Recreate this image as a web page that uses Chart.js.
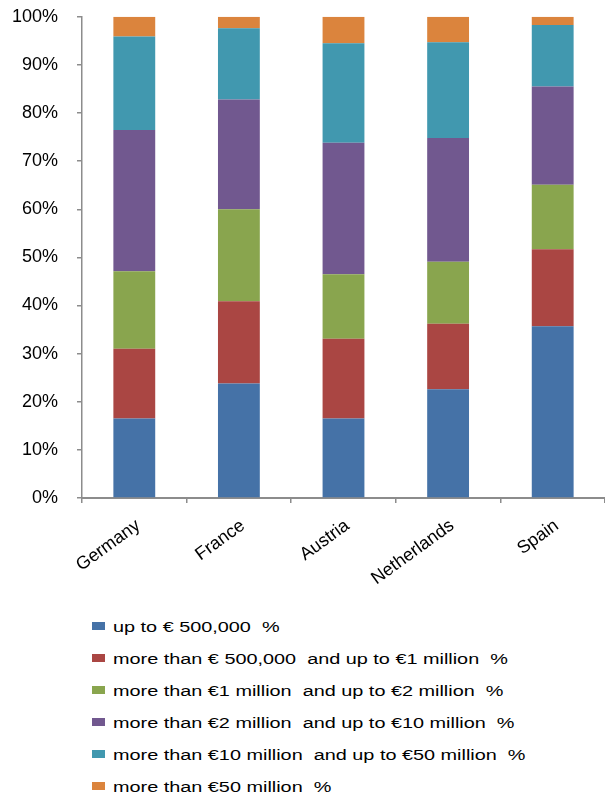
<!DOCTYPE html>
<html>
<head>
<meta charset="utf-8">
<script src="https://cdn.jsdelivr.net/npm/chart.js@4/dist/chart.umd.min.js"></script>
<style>
  html, body { margin: 0; padding: 0; background: #fff; }
  #wrap { position: relative; width: 605px; height: 798px; overflow: hidden; }
  #chartBox { position: absolute; left: 0; top: -13px; width: 605px; height: 614px; }
  #legend { position: absolute; left: 0; top: 0; font-family: "Liberation Sans", Arial, sans-serif; font-size: 15.5px; color: #000; }
  .item { position: absolute; white-space: pre; line-height: 20px; transform: scaleX(1.28); transform-origin: 0 50%; }
  .swatch { position: absolute; width: 13px; height: 8px; }
</style>
</head>
<body>
<div id="wrap">
  <div id="chartBox"><canvas id="c" width="605" height="614"></canvas></div>
  <div id="legend"></div>
</div>
<script>
// Share of firms by turnover class, per country (percent of total)
const countries = ["Germany", "France", "Austria", "Netherlands", "Spain"];

const upTo500k      = [16.5, 23.8, 16.5, 22.6, 35.7];
const from500kTo1m  = [14.5, 17.1, 16.6, 13.6, 16.0];
const from1mTo2m    = [16.1, 19.1, 13.4, 12.9, 13.4];
const from2mTo10m   = [29.4, 22.8, 27.3, 25.7, 20.4];
const from10mTo50m  = [19.4, 14.8, 20.7, 19.9, 12.8];
const over50m       = [4.1, 2.4, 5.5, 5.3, 1.7];

const seriesLabels = [
  "up to € 500,000  %",
  "more than € 500,000  and up to €1 million  %",
  "more than €1 million  and up to €2 million  %",
  "more than €2 million  and up to €10 million  %",
  "more than €10 million  and up to €50 million  %",
  "more than €50 million  %"
];
const seriesColors = ["#4572A7", "#AA4643", "#89A54E", "#71588F", "#4198AF", "#DB843D"];
const seriesValues = [upTo500k, from500kTo1m, from1mTo2m, from2mTo10m, from10mTo50m, over50m];

const datasets = seriesValues.map((vals, i) => ({
  label: seriesLabels[i],
  data: vals,
  backgroundColor: seriesColors[i],
  borderWidth: 0,
  barPercentage: 0.4,
  categoryPercentage: 1.0
}));

const axisGrey = "#8c8c8c";

new Chart(document.getElementById("c"), {
  type: "bar",
  data: { labels: countries, datasets },
  options: {
    responsive: false,
    animation: false,
    layout: { padding: { top: -2, right: 0, left: 0, bottom: 0 } },
    plugins: { legend: { display: false }, tooltip: { enabled: false } },
    scales: {
      x: {
        stacked: true,
        offset: true,
        grid: { display: true, drawOnChartArea: false, drawTicks: true, tickLength: 5, color: axisGrey, offset: true, lineWidth: 1.5 },
        border: { display: true, color: axisGrey, width: 2 },
        ticks: {
          color: "#000",
          font: { family: "'Liberation Sans', Arial, sans-serif", size: 18 },
          minRotation: 36, maxRotation: 36, padding: 12, labelOffset: 4, autoSkip: false
        },
        afterFit: (s) => { s.height = 103; }
      },
      y: {
        stacked: true,
        min: 0,
        max: 100,
        grid: { display: true, drawOnChartArea: false, drawTicks: true, tickLength: 5, color: axisGrey, lineWidth: 1.5 },
        border: { display: true, color: axisGrey, width: 1.5 },
        ticks: {
          stepSize: 10, color: "#000",
          font: { family: "'Liberation Sans', Arial, sans-serif", size: 18 },
          padding: 19, callback: (v) => v + "%"
        },
        afterFit: (s) => { s.width = 82; }
      }
    }
  }
});

// Legend listed below the plot, one entry per row
const legend = document.getElementById("legend");
const rowCenters = [627, 659, 691, 723, 755, 787];
seriesLabels.forEach((label, i) => {
  const sw = document.createElement("div");
  sw.className = "swatch";
  sw.style.background = seriesColors[i];
  sw.style.left = "92px";
  sw.style.top = (rowCenters[i] - 5) + "px";
  legend.appendChild(sw);
  const t = document.createElement("div");
  t.className = "item";
  t.textContent = label;
  t.style.left = "113px";
  t.style.top = (rowCenters[i] - 10) + "px";
  legend.appendChild(t);
});
</script>
</body>
</html>
